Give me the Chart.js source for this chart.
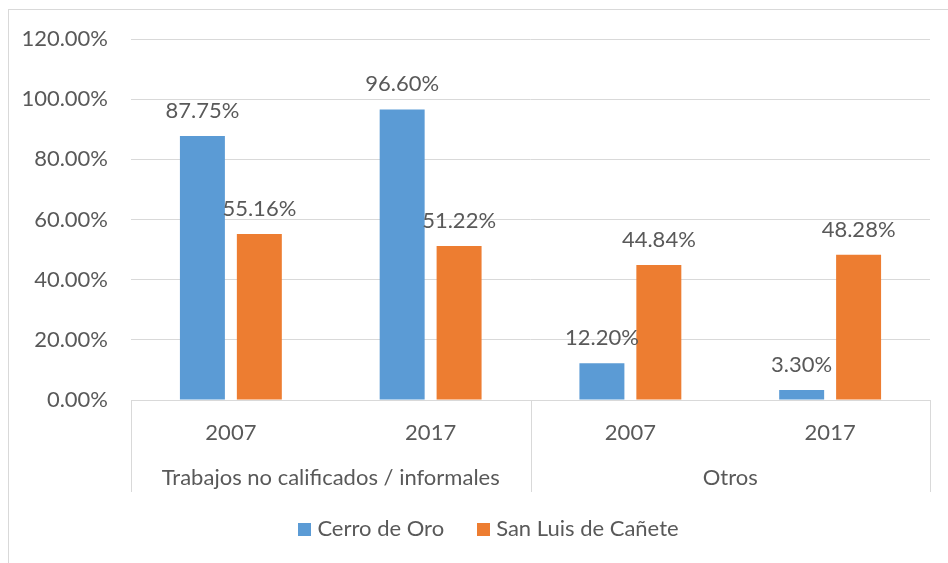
<!DOCTYPE html>
<html lang="es">
<head>
  <meta charset="UTF-8">
  <title>Cerro de Oro vs San Luis de Cañete</title>
  <script src="https://cdn.jsdelivr.net/npm/chart.js@4"></script>
  <style>
    html, body {
      margin: 0;
      padding: 0;
      background: #ffffff;
      overflow: hidden;
    }
    #frame {
      position: absolute;
      left: 8px;
      top: 9px;
      width: 960px;
      height: 600px;
      border: 1px solid #d9d9d9;
    }
    #wrap {
      position: absolute;
      left: 0;
      top: 0;
      width: 948px;
      height: 563px;
    }
  </style>
</head>
<body>
  <div id="frame"></div>
  <div id="wrap"><canvas id="chart"></canvas></div>

  <script>
    const years = ['2007', '2017', '2007', '2017'];
    const groupLabels = ['Trabajos no calificados / informales', 'Otros'];
    const groupSpan = [2, 2];
    const cerroDeOro = [87.75, 96.60, 12.20, 3.30];
    const sanLuis = [55.16, 51.22, 44.84, 48.28];
    const yTicks = [0, 20, 40, 60, 80, 100, 120];

    const FONT = 'Lato, "Open Sans", sans-serif';
    const TEXT = '#595959';
    const GRID = '#d9d9d9';
    const SIZE = 22;

    // etiquetas encima de cada barra
    const valueLabels = {
      id: 'valueLabels',
      afterDatasetsDraw(chart) {
        const ctx = chart.ctx;
        ctx.save();
        ctx.font = SIZE + 'px ' + FONT;
        ctx.fillStyle = TEXT;
        ctx.textAlign = 'center';
        ctx.textBaseline = 'alphabetic';
        chart.data.datasets.forEach((ds, i) => {
          chart.getDatasetMeta(i).data.forEach((bar, j) => {
            ctx.fillText(ds.data[j].toFixed(2) + '%', bar.x, bar.y - 18);
          });
        });
        ctx.restore();
      }
    };

    // eje de categorías en dos niveles
    const groupAxis = {
      id: 'groupAxis',
      afterDraw(chart) {
        const x = chart.scales.x;
        const ctx = chart.ctx;
        const top = x.top;
        const bottom = x.top + 92;
        const half = (x.getPixelForValue(1) - x.getPixelForValue(0)) / 2;
        ctx.save();
        ctx.strokeStyle = GRID;
        ctx.lineWidth = 1;
        ctx.font = SIZE + 'px ' + FONT;
        ctx.fillStyle = TEXT;
        ctx.textAlign = 'center';
        ctx.textBaseline = 'middle';
        let start = 0;
        groupLabels.forEach((label, g) => {
          const end = start + groupSpan[g] - 1;
          const left = x.getPixelForValue(start) - half;
          const right = x.getPixelForValue(end) + half;
          [left, right].forEach(px => {
            ctx.beginPath();
            ctx.moveTo(Math.round(px) + 0.5, top);
            ctx.lineTo(Math.round(px) + 0.5, bottom);
            ctx.stroke();
          });
          ctx.fillText(label, (left + right) / 2, top + 78);
          start = end + 1;
        });
        ctx.restore();
      }
    };

    // leyenda al pie, como en Excel
    const bottomLegend = {
      id: 'bottomLegend',
      afterDraw(chart) {
        const ctx = chart.ctx;
        const box = 13, gapText = 6, gapItem = 33;
        ctx.save();
        ctx.font = SIZE + 'px ' + FONT;
        ctx.textBaseline = 'middle';
        ctx.textAlign = 'left';
        const items = chart.data.datasets.map(ds => ({
          text: ds.label, color: ds.backgroundColor, w: ctx.measureText(ds.label).width
        }));
        const total = items.reduce((s, it) => s + box + gapText + it.w, 0) + gapItem * (items.length - 1);
        const cx = (chart.chartArea.left + chart.chartArea.right) / 2 - 42;
        const cy = chart.scales.x.bottom + 31;
        let px = cx - total / 2;
        items.forEach(it => {
          ctx.fillStyle = it.color;
          ctx.fillRect(Math.round(px), Math.round(cy - box / 2), box, box);
          px += box + gapText;
          ctx.fillStyle = TEXT;
          ctx.fillText(it.text, px, cy);
          px += it.w + gapItem;
        });
        ctx.restore();
      }
    };

    new Chart(document.getElementById('chart'), {
      type: 'bar',
      data: {
        labels: years,
        datasets: [
          {
            label: 'Cerro de Oro',
            data: cerroDeOro,
            backgroundColor: '#5b9bd5',
            categoryPercentage: 0.57,
            barPercentage: 0.79
          },
          {
            label: 'San Luis de Cañete',
            data: sanLuis,
            backgroundColor: '#ed7d31',
            categoryPercentage: 0.57,
            barPercentage: 0.79
          }
        ]
      },
      options: {
        responsive: true,
        maintainAspectRatio: false,
        animation: false,
        layout: {
          padding: { top: 39, left: 0, right: 18, bottom: 65 }
        },
        scales: {
          x: {
            grid: { display: false, drawTicks: false },
            border: { display: true, color: GRID },
            ticks: {
              color: TEXT,
              font: { family: FONT, size: SIZE },
              padding: 20,
              maxRotation: 0
            },
            afterFit(scale) {
              scale.height = 98;
            }
          },
          y: {
            min: 0,
            max: 120,
            afterBuildTicks(scale) {
              scale.ticks = yTicks.map(v => ({ value: v }));
            },
            grid: { color: GRID, drawTicks: false },
            border: { display: false },
            ticks: {
              color: TEXT,
              font: { family: FONT, size: SIZE },
              padding: 23,
              callback: v => v.toFixed(2) + '%'
            },
            afterFit(scale) {
              scale.width = 131;
            }
          }
        },
        plugins: {
          legend: { display: false },
          tooltip: { enabled: false }
        }
      },
      plugins: [valueLabels, groupAxis, bottomLegend]
    });
  </script>
</body>
</html>
